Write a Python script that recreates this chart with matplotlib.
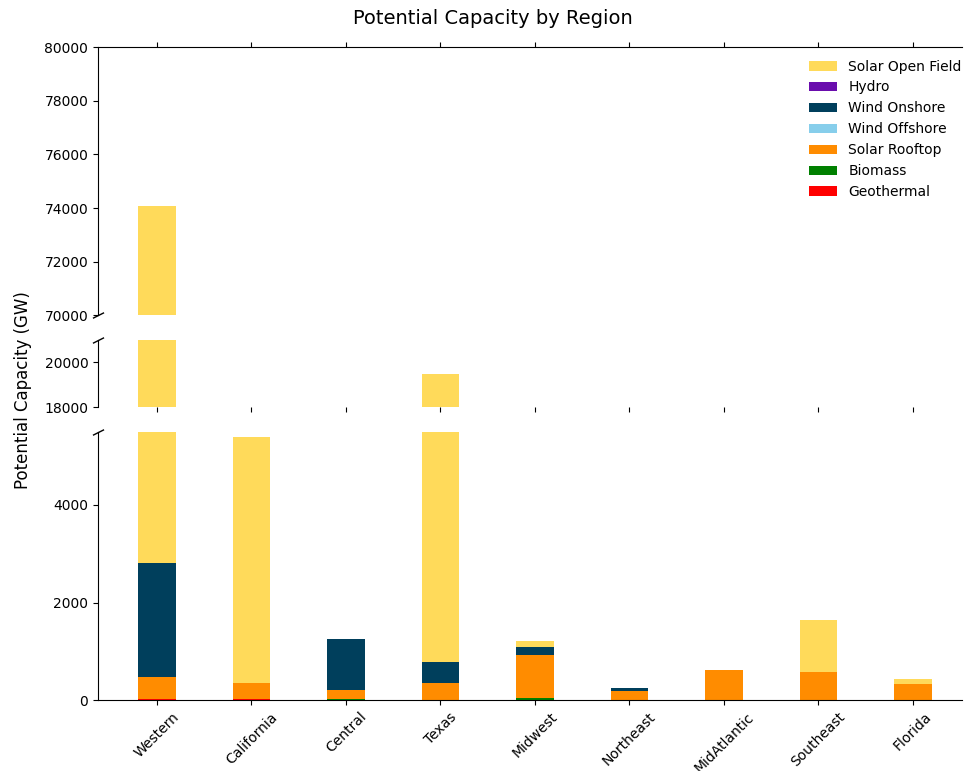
import numpy as np
import matplotlib
matplotlib.use("Agg")
import matplotlib.pyplot as plt

regions = ["Western", "California", "Central", "Texas", "Midwest",
           "Northeast", "MidAtlantic", "Southeast", "Florida"]

# capacities in GW, stacked bottom to top
geothermal = [20, 25, 0, 0, 0, 0, 0, 0, 0]
biomass = [0, 0, 25, 0, 45, 0, 0, 0, 0]
solar_rooftop = [445, 330, 180, 355, 872, 185, 615, 580, 330]
wind_offshore = [0, 0, 0, 0, 0, 10, 0, 0, 0]
wind_onshore = [2345, 0, 1046, 431, 177, 45, 0, 0, 0]
hydro = [0, 0, 0, 0, 0, 0, 0, 0, 0]
solar_open_field = [71260, 5040, 0, 18714, 116, 0, 0, 1060, 100]

series = [
    ("Geothermal", geothermal, "#FF0000"),
    ("Biomass", biomass, "#008000"),
    ("Solar Rooftop", solar_rooftop, "#FF8C00"),
    ("Wind Offshore", wind_offshore, "#87CEEB"),
    ("Wind Onshore", wind_onshore, "#003F5C"),
    ("Hydro", hydro, "#6A0DAD"),
    ("Solar Open Field", solar_open_field, "#FFDA5A"),
]

fig = plt.figure(figsize=(9.64, 7.71), dpi=100)
left, right = 0.1017, 0.998
ax_top = fig.add_axes([left, 0.591, right - left, 0.348])
ax_mid = fig.add_axes([left, 0.472, right - left, 0.087])
ax_bot = fig.add_axes([left, 0.092, right - left, 0.348])

x = np.arange(len(regions))
width = 0.4
for ax in (ax_top, ax_mid, ax_bot):
    bottom = np.zeros(len(regions))
    for name, vals, color in series:
        vals = np.array(vals, dtype=float)
        ax.bar(x, vals, width, bottom=bottom, color=color, label=name,
               linewidth=0)
        bottom += vals
    ax.set_xlim(-0.624, 8.52)
    ax.set_xticks(x)
    ax.spines["right"].set_visible(False)
    ax.tick_params(labelsize=10)

ax_top.set_ylim(70000, 80000)
ax_top.set_yticks(np.arange(70000, 80001, 2000))
ax_top.spines["bottom"].set_visible(False)
ax_top.xaxis.tick_top()
ax_top.tick_params(axis="x", labeltop=False)

ax_mid.set_ylim(18000, 21000)
ax_mid.set_yticks([18000, 20000])
ax_mid.spines["top"].set_visible(False)
ax_mid.spines["bottom"].set_visible(False)
ax_mid.tick_params(axis="x", labelbottom=False)

ax_bot.set_ylim(0, 5500)
ax_bot.set_yticks([0, 2000, 4000])
ax_bot.spines["top"].set_visible(False)
ax_bot.set_xticklabels(regions, rotation=45)

# break marks on the left spine
d = 0.5
kw = dict(marker=[(-1, -d), (1, d)], markersize=8, linestyle="none",
          color="k", mec="k", mew=1, clip_on=False)
ax_top.plot([0], [0], transform=ax_top.transAxes, **kw)
ax_mid.plot([0], [1], transform=ax_mid.transAxes, **kw)
ax_bot.plot([0], [1], transform=ax_bot.transAxes, **kw)

handles, labels = ax_top.get_legend_handles_labels()
ax_top.legend(handles[::-1], labels[::-1], loc="upper right", frameon=False,
              fontsize=10, bbox_to_anchor=(1.014, 1.0))

fig.text(0.5114, 1 - 18 / 771, "Potential Capacity by Region",
         ha="center", va="center", fontsize=14)
fig.text(0.024, 0.494, "Potential Capacity (GW)", rotation=90,
         ha="center", va="center", fontsize=12)

fig.savefig("out.png", dpi=100)
